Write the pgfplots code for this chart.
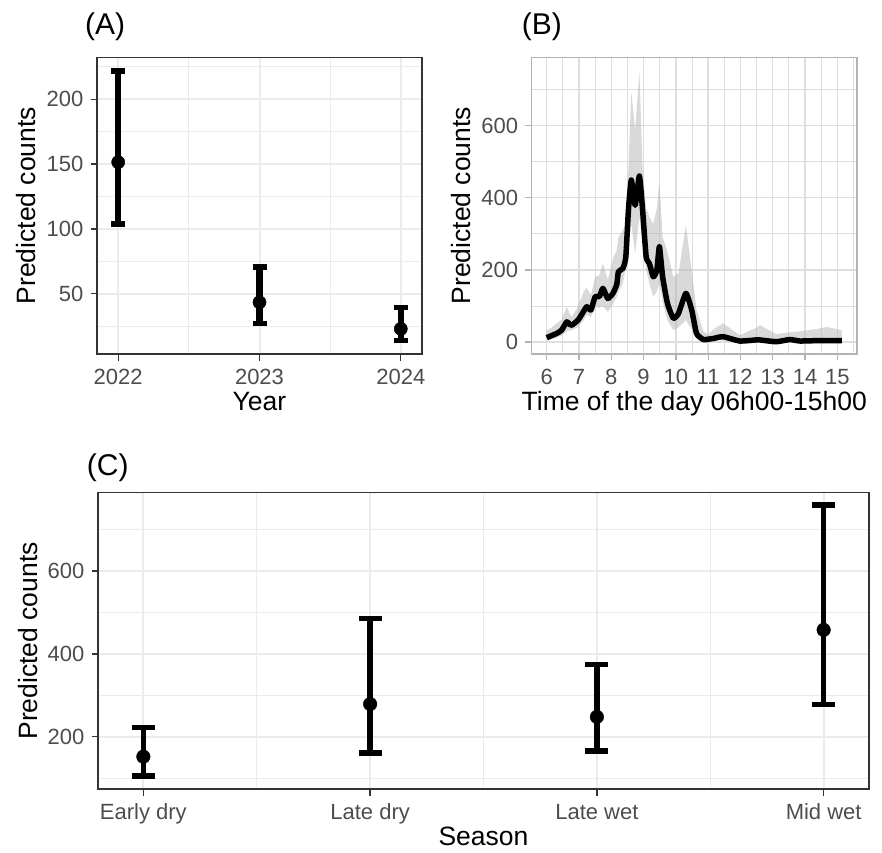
\documentclass[border=0pt]{standalone}
\usepackage{fontspec}
\setmainfont{Liberation Sans}
\usepackage{pgfplots}
\usepackage{pgfplotstable}
\pgfplotsset{compat=1.18}
\definecolor{grey20}{HTML}{333333}
\definecolor{grey30}{HTML}{4D4D4D}
\definecolor{grey70}{HTML}{B3B3B3}
\definecolor{grey87}{HTML}{DEDEDE}
\definecolor{grey92}{HTML}{EBEBEB}

\pgfplotstableread{
x y ep em
2022 151.5 70.5 47.5
2023 43.5 27.0 16.5
2024 23.0 16.5 9.0
}\tyear

\pgfplotstableread{
x y ep em
0 152 70.5 47
1 279 206 118
2 248 126 82
3 458 301 180
}\tseason

\pgfplotstableread{
x y
6.00 12
6.15 18
6.31 24
6.46 33
6.62 56
6.70 50
6.78 47
6.98 62
7.14 85
7.24 98
7.37 89
7.50 126
7.63 126
7.74 149
7.89 121
8.05 135
8.17 160
8.22 195
8.36 204
8.45 236
8.53 365
8.62 449
8.74 379
8.87 460
8.97 365
9.08 236
9.18 218
9.30 181
9.41 199
9.49 264
9.59 181
9.74 107
9.92 66
10.08 79
10.31 135
10.49 89
10.64 24
10.85 7
11.00 8
11.16 10
11.46 15
11.98 3
12.49 6
12.60 6
13.11 1
13.53 7
13.84 3
14.35 4
14.66 4
15.14 4
}\tday

% confidence band: upper bound forward, lower bound backward
\pgfplotstableread{
x b
6.00 33
6.15 40
6.31 52
6.46 62
6.62 98
6.70 80
6.78 70
6.98 100
7.14 139
7.24 150
7.37 130
7.50 181
7.63 185
7.74 218
7.89 172
8.05 230
8.17 255
8.22 290
8.36 310
8.45 330
8.53 480
8.62 693
8.74 587
8.87 752
8.97 480
9.08 370
9.18 347
9.30 328
9.41 370
9.49 444
9.59 292
9.74 250
9.92 180
10.08 190
10.31 324
10.49 200
10.64 90
10.85 30
11.00 20
11.16 35
11.46 52
11.98 19
12.49 40
12.60 47
13.11 22
13.53 27
13.84 30
14.35 36
14.66 42
15.14 33
15.14 2
14.66 2
14.35 2
13.84 1
13.53 2
13.11 1
12.60 2
12.49 2
11.98 2
11.46 5
11.16 4
11.00 4
10.85 4
10.64 8
10.49 35
10.31 61
10.08 40
9.92 33
9.74 60
9.59 110
9.49 162
9.41 140
9.30 126
9.18 162
9.08 200
8.97 280
8.87 347
8.74 245
8.62 329
8.53 273
8.45 210
8.36 162
8.22 140
8.17 126
8.05 105
7.89 84
7.74 100
7.63 95
7.50 98
7.37 70
7.24 75
7.14 60
6.98 42
6.78 33
6.70 32
6.62 30
6.46 18
6.31 12
6.15 8
6.00 6
}\tband

\pgfplotsset{
  base/.style={
    scale only axis, anchor=south west,
    tick pos=left, tick align=outside,
    major tick length=6.5pt, minor tick length=0pt,
    grid=both, scaled ticks=false,
    /pgf/number format/assume math mode=true,
    /pgf/number format/1000 sep={},
    tick label style={font=\fontsize{22}{22}\selectfont, color=grey30},
    label style={font=\fontsize{26.5}{26.5}\selectfont, color=black},
    xticklabel style={anchor=north, inner sep=0pt, yshift=-8pt,
      text height=15.7pt, text depth=4.6pt},
    yticklabel style={anchor=east, inner sep=0pt, xshift=-7pt},
  },
  bw/.style={base,
    axis line style={draw=grey20, line width=1.4pt},
    major tick style={draw=grey20, line width=1.3pt},
    major grid style={draw=grey92, line width=2pt},
    minor grid style={draw=grey92, line width=1pt},
  },
  light/.style={base,
    axis line style={draw=grey70, line width=1.4pt},
    major tick style={draw=grey70, line width=1.3pt},
    major grid style={draw=grey87, line width=1.4pt},
    minor grid style={draw=grey87, line width=0.9pt},
  },
}

\begin{document}
\begin{tikzpicture}
\useasboundingbox (0,0) rectangle (882pt,852pt);

% Panel A
\begin{axis}[bw, at={(97pt,498pt)}, width=325pt, height=296.7pt,
  xmin=2021.85, xmax=2024.15, ymin=3.6, ymax=232.4,
  xtick={2022,2023,2024}, minor xtick={2022.5,2023.5},
  ytick={50,100,150,200}, minor ytick={25,75,125,175,225},
  xlabel={Year}, ylabel={Predicted counts},
  xlabel style={at={(axis description cs:0.5,-0.192)}, anchor=base},
  ylabel style={at={(axis description cs:-0.1877,0.5)}, anchor=base}]
\addplot[black, only marks, mark=*, mark size=6.6pt,
  error bars/.cd, y dir=both, y explicit,
  error bar style={line width=6.5pt, black},
  error mark options={line width=5.5pt, mark size=7pt, black, rotate=90}]
  table[x=x, y=y, y error plus=ep, y error minus=em] {\tyear};
\end{axis}

% Panel B
\begin{axis}[light, at={(531.7pt,498pt)}, width=325.3pt, height=296.7pt,
  xmin=5.535, xmax=15.61, ymin=-33, ymax=789,
  xtick={6,7,...,15}, minor xtick={6.5,7.5,...,15.5},
  ytick={0,200,400,600}, minor ytick={100,300,500,700},
  xlabel={Time of the day 06h00-15h00}, ylabel={Predicted counts},
  xlabel style={at={(axis description cs:0.5,-0.192)}, anchor=base},
  ylabel style={at={(axis description cs:-0.1875,0.5)}, anchor=base}]
\addplot[fill=grey70, fill opacity=0.5, draw=none] table[x=x, y=b] {\tband} -- cycle;
\addplot[black, line width=5.5pt, line join=round, no marks, smooth, tension=0.3] table[x=x, y=y] {\tday};
\end{axis}

% Panel C
\begin{axis}[bw, at={(98pt,63pt)}, width=771pt, height=296.3pt,
  xmin=-0.2, xmax=3.2, ymin=74, ymax=789,
  xtick={0,1,2,3}, xticklabels={Early dry, Late dry, Late wet, Mid wet},
  minor xtick={0.5,1.5,2.5},
  ytick={200,400,600}, minor ytick={100,300,500,700},
  xlabel={Season}, ylabel={Predicted counts},
  xlabel style={at={(axis description cs:0.5,-0.192)}, anchor=base},
  ylabel style={at={(axis description cs:-0.0791,0.5)}, anchor=base}]
\addplot[black, only marks, mark=*, mark size=6.8pt,
  error bars/.cd, y dir=both, y explicit,
  error bar style={line width=5.5pt, black},
  error mark options={line width=5.5pt, mark size=11.5pt, black, rotate=90}]
  table[x=x, y=y, y error plus=ep, y error minus=em] {\tseason};
\end{axis}

\node[anchor=base west, inner sep=0pt, font=\fontsize{30}{30}\selectfont] at (85pt,817pt) {(A)};
\node[anchor=base west, inner sep=0pt, font=\fontsize{30}{30}\selectfont] at (521.7pt,817pt) {(B)};
\node[anchor=base west, inner sep=0pt, font=\fontsize{30}{30}\selectfont] at (86.7pt,377pt) {(C)};
\end{tikzpicture}
\end{document}
